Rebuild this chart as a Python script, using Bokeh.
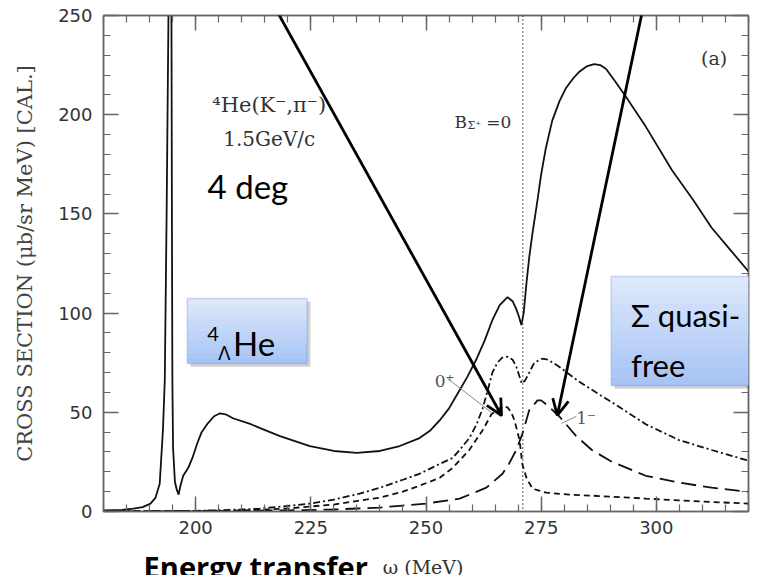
from bokeh.plotting import figure
from bokeh.layouts import column
from bokeh.models import (Range1d, LinearAxis, Span, Label, Arrow, OpenHead,
                          BoxAnnotation, FixedTicker)
from bokeh.embed import file_html
from bokeh.resources import INLINE

# ---------------- data ----------------
total_x = [180, 184, 186.5, 188.5, 190.2, 191.3, 192.2, 192.9, 193.3, 193.7, 194.1, 194.45,
           194.75, 194.85, 194.95, 195.1, 195.5, 195.9, 196.3, 196.7, 197.3, 198.4, 199.3,
           200.3, 201.3, 202.5, 204.0, 205.3, 206.5, 208.1, 212, 214, 218.3, 224.8, 230,
           235, 240, 244.3, 248.6, 251, 253, 255, 257, 259, 261, 262.7, 264.5, 266, 267.7,
           268.8, 269.6, 270.2, 270.7, 271.2, 271.8, 272.4, 273.1, 274.2, 275.0, 276.0,
           277.4, 279.0, 280.4, 282.0, 283.2, 285.0, 286.5, 287.8, 289.1, 291.0, 293.4,
           297.7, 303.4, 308, 312, 316, 320]
total_y = [0.5, 0.8, 1.5, 2.2, 4, 7, 14, 41, 66, 150, 250, 340,
           250, 150, 66, 32, 15, 11, 8.5, 13, 18, 22, 27,
           34, 40, 44, 48, 49.5, 49, 47, 44, 42, 38, 33, 30.5,
           29.5, 30.5, 33, 37, 41, 46, 52, 60, 68, 77, 86, 97, 104, 108,
           106, 102, 98, 94, 100, 115, 128, 140, 157, 170, 183,
           197, 207, 213.5, 218.5, 221.5, 224.5, 225.5, 225, 223, 217, 209,
           194, 172, 157, 143, 132, 121]

sigma_x = [180, 200, 210, 214, 220, 224.8, 230, 235.6, 240, 245, 248.6, 253, 255.8, 257.3,
           259.4, 261, 262.3, 263.5, 264.4, 265.5, 266.5, 267.7, 268.8, 269.6, 270.3,
           270.8, 271.5, 272.4, 273.5, 275.2, 276.5, 278.9, 283.2, 287.6, 290.4, 297.7,
           304.9, 312, 319.4, 320]
sigma_y = [0, 0.3, 1, 1.5, 2.8, 4, 6, 9, 12, 16, 19, 24, 27, 31,
           37, 44, 52, 62, 70, 75, 77.5, 78, 76.5, 73, 68,
           64.5, 66, 70, 75, 77, 76.5, 73, 65.5, 59, 55, 44,
           36, 31, 26, 25.5]

zero_x = [180, 210, 220, 224.8, 230, 235.6, 240, 245, 248.6, 253, 255.8, 259.4, 262.3, 264.2,
          266.6, 267.7, 268.5, 269.2, 270.3, 270.9, 271.8, 273.1, 276.1, 281.1, 287.6,
          297.7, 310, 320]
zero_y = [0, 0.5, 1.5, 2.5, 3.5, 5.5, 7, 10, 13, 17, 22, 31, 41, 49,
          53, 52.5, 50, 46, 36, 24, 17, 11.5, 9.5, 8.5, 7.8,
          6.5, 5, 4]

one_x = [180, 210, 220, 230, 235, 240, 245, 250, 257.3, 263.1, 266.6, 268, 269.6, 270.9,
         272.4, 274.2, 275, 276.1, 278.9, 282.6, 286, 290.4, 297.7, 304.9, 312, 319.4, 320]
one_y = [0, 0.3, 0.6, 1, 1.5, 2, 3, 4, 6.5, 12, 19, 24, 31, 39,
         51, 56, 56, 54, 48, 38, 31, 25, 18, 14.6, 12, 10, 10]

x_major = [200, 225, 250, 275, 300]
x_minor = list(range(180, 321, 5))
y_major = [0, 50, 100, 150, 200, 250]
y_minor = list(range(0, 251, 10))

threshold = 271  # B_Sigma+ = 0

# ---------------- figure ----------------
W = 766
xr = Range1d(180, 320)
p = figure(width=W, height=540, x_range=xr, y_range=Range1d(0, 250), title=None,
           output_backend="svg", toolbar_location=None,
           min_border_left=103, min_border_right=18, min_border_top=15, min_border_bottom=29)
p.grid.visible = False
p.outline_line_color = "#777777"
p.outline_line_width = 1.5
p.background_fill_color = "white"
p.border_fill_color = "white"

AX = "#666666"
def style_axis(ax, ticks, minor, show_labels, standoff=11):
    ax.ticker = FixedTicker(ticks=ticks, minor_ticks=minor)
    ax.major_tick_in = 15
    ax.major_tick_out = 0
    ax.minor_tick_in = 7
    ax.minor_tick_out = 0
    ax.axis_line_color = AX
    ax.axis_line_width = 1.5
    ax.major_tick_line_color = AX
    ax.major_tick_line_width = 1.5
    ax.minor_tick_line_color = AX
    ax.minor_tick_line_width = 1.2
    if show_labels:
        ax.major_label_text_font = "DejaVu Sans"
        ax.major_label_text_font_size = "18px"
        ax.major_label_text_color = "#333333"
        ax.major_label_standoff = standoff
    else:
        ax.major_label_text_color = None
        ax.major_label_text_font_size = "0px"
        ax.major_label_standoff = 0

style_axis(p.xaxis[0], x_major, x_minor, True, standoff=9)
p.xaxis[0].axis_label_standoff = 0
style_axis(p.yaxis[0], y_major, y_minor, True)
p.yaxis[0].axis_label = "CROSS SECTION (\u03bcb/sr MeV) [CAL.]"
p.yaxis[0].axis_label_text_font = "DejaVu Serif"
p.yaxis[0].axis_label_text_font_style = "normal"
p.yaxis[0].axis_label_text_font_size = "21px"
p.yaxis[0].axis_label_text_color = "#444444"
p.yaxis[0].axis_label_standoff = 18

top = LinearAxis()
style_axis(top, x_major, x_minor, False)
p.add_layout(top, "above")
right = LinearAxis()
style_axis(right, y_major, y_minor, False)
p.add_layout(right, "right")

# ---------------- curves ----------------
LC = "#111111"
p.line(total_x, total_y, line_color=LC, line_width=1.8)
p.line(sigma_x, sigma_y, line_color=LC, line_width=1.8, line_dash="7 3 2 3")
p.line(zero_x, zero_y, line_color=LC, line_width=1.8, line_dash="6 4")
p.line(one_x, one_y, line_color=LC, line_width=1.8, line_dash="15 7")

p.add_layout(Span(location=threshold, dimension="height", line_color="#222222",
                  line_width=1.5, line_dash="1 3"))

# leader lines for 0+ and 1-
p.segment(x0=[254.7, 282.6], y0=[67.0, 47.9], x1=[264.2, 279.4], y1=[49.9, 44.4],
          line_color="#888888", line_width=1)

# ---------------- in-plot texts ----------------
def lab(fig, x, y, text, size, font="DejaVu Serif", color="#333333", style="normal",
        align="left", baseline="alphabetic", y_offset=0):
    fig.add_layout(Label(x=x, y=y, text=text, text_font=font, text_font_size=size,
                         text_color=color, text_font_style=style, text_align=align,
                         text_baseline=baseline, y_offset=y_offset))

lab(p, 203.6, 205.1, "\u2074He(K\u207b,\u03c0\u207b)", "21px")
lab(p, 206.0, 188.0, "1.5GeV/c", "20px")
lab(p, 202.6, 164.3, "4 deg", "33px", font="Lato", color="#000000")
lab(p, 256.2, 196.1, "B", "17px")
lab(p, 259.0, 194.6, "\u03a3\u207a", "11px")
lab(p, 263.1, 196.1, "=0", "17px")
lab(p, 309.7, 228.8, "(a)", "19px")
lab(p, 251.9, 66.0, "0\u207a", "17px", color="#555555")
lab(p, 282.6, 46.9, "1\u207b", "17px", color="#555555")

# ---------------- slide call-out boxes ----------------
def gradient_box(left, right, top_, bottom, n=12):
    c0 = (0xdd, 0xe8, 0xfc)
    c1 = (0xa6, 0xc4, 0xf5)
    p.add_layout(BoxAnnotation(left=left + 0.7, right=right + 0.7, top=top_ - 1.6,
                               bottom=bottom - 1.6, fill_color="black", fill_alpha=0.18,
                               line_color=None))
    h = (top_ - bottom) / n
    for i in range(n):
        t = i / (n - 1)
        col = "#%02x%02x%02x" % tuple(int(round(a + (b - a) * t)) for a, b in zip(c0, c1))
        p.add_layout(BoxAnnotation(left=left, right=right, top=top_ - i * h,
                                   bottom=top_ - (i + 1) * h - 0.05, fill_color=col,
                                   fill_alpha=1, line_color=None))
    p.add_layout(BoxAnnotation(left=left, right=right, top=top_, bottom=bottom,
                               fill_alpha=0, line_color="#5b8bd6", line_width=1.5))

gradient_box(198.2, 224.2, 107.4, 74.6)
lab(p, 202.5, 89.7, "4", "20px", font="Lato", color="#000000")
lab(p, 204.9, 80.1, "\u039b", "20px", font="Noto Sans", color="#000000")
lab(p, 208.1, 84.7, "He", "33px", font="Lato", color="#000000")

gradient_box(290.2, 326.1, 118.4, 63.5)
lab(p, 294.5, 98.8, "\u03a3 quasi-", "31px", font="Lato", color="#000000")
lab(p, 294.5, 73.6, "free", "31px", font="Lato", color="#000000")

# ---------------- arrows ----------------
for (xs, ys, xe, ye) in [(216.5, 257.0, 266.4, 48.4), (297.4, 257.0, 278.5, 48.4)]:
    p.add_layout(Arrow(x_start=xs, y_start=ys, x_end=xe, y_end=ye,
                       line_color="black", line_width=2.8,
                       end=OpenHead(size=16, line_width=2.8, line_color="black")))

# ---------------- strip below: slide axis title ----------------
p2 = figure(width=W, height=35, x_range=xr, y_range=Range1d(0, 35), title=None,
            output_backend="svg", toolbar_location=None, x_axis_type=None, y_axis_type=None,
            min_border_left=103, min_border_right=18, min_border_top=0, min_border_bottom=0,
            min_border=0)
p2.grid.visible = False
p2.outline_line_color = None
p2.border_fill_color = "white"
p2.background_fill_color = "white"
# anchored to the top of the strip, offset downward in pixels
lab(p2, 188.7, 35, "Energy transfer", "29px", font="Open Sans", color="#000000",
    style="bold", y_offset=-26)
lab(p2, 240.6, 35, "\u03c9 (MeV)", "19px", y_offset=-26)

open("out.html", "w").write(file_html(column(p, p2, spacing=0), INLINE))
